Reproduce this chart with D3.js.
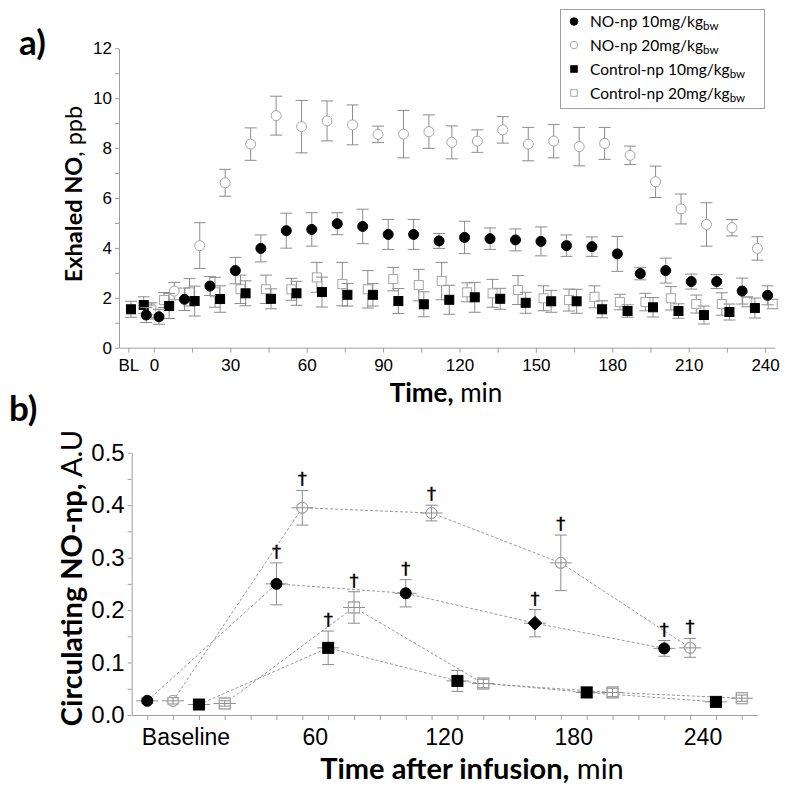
<!DOCTYPE html>
<html>
<head>
<meta charset="utf-8">
<script src="https://cdn.jsdelivr.net/npm/d3@7"></script>
<style>
  html, body { margin: 0; padding: 0; background: #fff; }
  svg { display: block; font-family: Lato, "Open Sans", sans-serif; }
</style>
</head>
<body>
<svg id="chart" width="794" height="788"></svg>
<script>
// ---------------- Panel a) data : Exhaled NO (ppb) ----------------
const topXTicks = [-10, 0, 15, 30, 45, 60, 75, 90, 105, 120, 135, 150, 165, 180, 195, 210, 225, 240];
const topXLabels = {"-10": "BL", "0": "0", "30": "30", "60": "60", "90": "90", "120": "120", "150": "150", "180": "180", "210": "210", "240": "240"};
const topYTicks = [0,1,2,3,4,5,6,7,8,9,10,11,12];

const legendNames = ["NO-np 10mg/kg", "NO-np 20mg/kg", "Control-np 10mg/kg", "Control-np 20mg/kg"];

const tNO10 = [-3,2,12,22,32,42,52,62,72,82,92,102,112,122,132,142,152,162,172,182,191,201,211,221,231,241];
const vNO10 = [1.31,1.24,1.94,2.47,3.09,3.98,4.69,4.74,4.97,4.86,4.54,4.54,4.28,4.42,4.37,4.32,4.26,4.09,4.05,3.76,2.97,3.09,2.65,2.65,2.27,2.10];
const eNO10 = [0.3,0.3,0.45,0.38,0.53,0.54,0.7,0.67,0.44,0.69,0.6,0.6,0.3,0.65,0.43,0.44,0.58,0.43,0.39,0.7,0.25,0.5,0.3,0.28,0.52,0.38];

const tNO20 = [-2,8,18,28,38,48,58,68,78,88,98,108,117,127,137,147,157,167,177,187,197,207,217,227,237];
const vNO20 = [1.45,2.27,4.09,6.61,8.16,9.30,8.86,9.09,8.93,8.55,8.56,8.66,8.23,8.28,8.73,8.16,8.28,8.06,8.19,7.71,6.65,5.56,4.94,4.81,3.98];
const eNO20 = [0.3,0.35,0.92,0.54,0.65,0.78,1.05,0.8,0.8,0.33,0.95,0.67,0.66,0.45,0.53,0.67,0.67,0.77,0.64,0.37,0.63,0.6,0.87,0.33,0.47];

const tCT10 = [-9,-4,6,16,26,36,46,56,66,76,86,96,106,116,126,136,146,156,166,176,186,196,206,216,226,236];
const vCT10 = [1.54,1.71,1.67,1.87,1.95,2.18,1.96,2.18,2.23,2.12,2.12,1.87,1.74,1.92,2.02,1.96,1.80,1.86,1.86,1.54,1.47,1.62,1.47,1.31,1.43,1.59];
const eCT10 = [0.32,0.33,0.5,0.6,0.53,0.5,0.4,0.48,0.6,0.45,0.45,0.5,0.5,0.58,0.6,0.42,0.42,0.44,0.48,0.34,0.25,0.39,0.29,0.36,0.32,0.4];

const tCT20 = [-1,4,14,24,34,44,54,64,74,84,94,104,113,123,133,143,153,163,173,183,193,203,213,223,233,243];
const vCT20 = [1.5,1.91,2.22,2.22,2.34,2.34,2.34,2.82,2.55,2.34,2.75,2.51,2.67,2.22,2.18,2.31,1.98,1.91,2.04,1.83,1.83,1.98,1.75,1.75,1.84,1.75];
const eCT20 = [0.3,0.3,0.55,0.6,0.57,0.57,0.44,0.6,0.87,0.75,0.47,0.63,0.75,0.38,0.56,0.58,0.5,0.44,0.44,0.31,0.35,0.47,0.36,0.45,0.2,0.19];

// ---------------- Panel b) data : Circulating NO-np (A.U) ----------------
const groupLabels = ["Baseline", "60", "120", "180", "240"];
const groupTimes = [0, 60, 120, 180, 240];
const bottomXTicks = d3.range(-18, 259, 12);
const bottomYTicks = [0,0.05,0.1,0.15,0.2,0.25,0.3,0.35,0.4,0.45,0.5];
const bottomYLabels = [0,0.1,0.2,0.3,0.4,0.5];

const bNO10 = [0.027,0.25,0.232,0.175,0.127];
const bNO10e = [0.005,0.04,0.026,0.026,0.015];
const bNO10shape = ["circle","circle","circle","diamond","circle"];
const bNO10dag = [0,1,1,1,1];

const bNO20 = [0.027,0.395,0.385,0.29,0.128];
const bNO20e = [0.006,0.033,0.015,0.053,0.018];
const bNO20dag = [0,1,1,1,1];

const bCT10 = [0.02,0.128,0.065,0.043,0.025];
const bCT10e = [0.004,0.032,0.02,0.01,0.005];
const bCT10dag = [0,1,0,0,0];

const bCT20 = [0.022,0.205,0.06,0.043,0.032];
const bCT20e = [0.005,0.03,0.008,0.008,0.006];
const bCT20dag = [0,1,0,0,0];

const seriesOffsets = [-18, -6, 6, 18];

// ---------------- drawing ----------------
const svg = d3.select("#chart");
const AXC = "#a0a0a0";
const ERRC = "#8c8c8c";
const OPENC = "#a6a6a6";

function styleAxis(g) {
  g.select(".domain").attr("stroke", AXC).attr("stroke-width", 1);
  g.selectAll(".tick line").attr("stroke", AXC).attr("stroke-width", 1);
  g.selectAll(".tick text").attr("fill", "#000");
}

function drawMarker(g, shape, filled, cx, cy, size, openColor, openFill) {
  const fill = filled ? "#000" : (openFill || "#fff");
  const stroke = filled ? "#000" : openColor;
  if (shape === "circle") {
    g.append("circle").attr("cx", cx).attr("cy", cy).attr("r", size / 2)
      .attr("fill", fill).attr("stroke", stroke).attr("stroke-width", 1);
  } else if (shape === "square") {
    g.append("rect").attr("x", cx - size / 2).attr("y", cy - size / 2)
      .attr("width", size).attr("height", size)
      .attr("fill", fill).attr("stroke", stroke).attr("stroke-width", 1);
  } else if (shape === "diamond") {
    const s = size * 0.62;
    g.append("path").attr("d", `M${cx},${cy - s}L${cx + s},${cy}L${cx},${cy + s}L${cx - s},${cy}Z`)
      .attr("fill", fill).attr("stroke", stroke).attr("stroke-width", 1);
  }
}

// ===== Panel a =====
const xA = d3.scaleLinear().domain([-13.7, 243.9]).range([119, 775]);
const yA = d3.scaleLinear().domain([0, 12]).range([347.7, 48.3]);

const gxA = svg.append("g").attr("transform", `translate(0,${yA(0)})`)
  .call(d3.axisBottom(xA).tickValues(topXTicks).tickSize(5).tickPadding(6)
    .tickFormat(d => topXLabels[String(d)] || "").tickSizeOuter(0));
gxA.selectAll(".tick text").attr("font-size", 17);
styleAxis(gxA);

const gyA = svg.append("g").attr("transform", `translate(${xA.range()[0]},0)`)
  .call(d3.axisLeft(yA).tickValues(topYTicks).tickSize(4).tickPadding(3)
    .tickFormat(d => d % 2 === 0 ? String(d) : "").tickSizeOuter(0));
gyA.selectAll(".tick text").attr("font-size", 17);
styleAxis(gyA);

const plotA = svg.append("g");
function drawTopSeries(ts, vs, es, shape, filled, size) {
  const g = plotA.append("g");
  ts.forEach((t, i) => {
    const cx = xA(t), cy = yA(vs[i]);
    const y1 = yA(vs[i] + es[i]), y2 = yA(vs[i] - es[i]);
    g.append("line").attr("x1", cx).attr("x2", cx).attr("y1", y1).attr("y2", y2)
      .attr("stroke", ERRC).attr("stroke-width", 1);
    [y1, y2].forEach(yy => g.append("line").attr("x1", cx - 6).attr("x2", cx + 6)
      .attr("y1", yy).attr("y2", yy).attr("stroke", ERRC).attr("stroke-width", 1));
  });
  ts.forEach((t, i) => drawMarker(g, shape, filled, xA(t), yA(vs[i]), size, OPENC));
}
drawTopSeries(tNO20, vNO20, eNO20, "circle", false, 10);
drawTopSeries(tCT20, vCT20, eCT20, "square", false, 9);
drawTopSeries(tCT10, vCT10, eCT10, "square", true, 9);
drawTopSeries(tNO10, vNO10, eNO10, "circle", true, 10);

// axis titles a
svg.append("text").attr("x", 446).attr("y", 402).attr("text-anchor", "middle")
  .attr("font-size", 26)
  .call(t => { t.append("tspan").attr("font-weight", "bold").text("Time,");
               t.append("tspan").text(" min"); });
svg.append("text").attr("transform", "translate(82,194) rotate(-90)").attr("text-anchor", "middle")
  .attr("font-size", 23.5)
  .call(t => { t.append("tspan").attr("font-weight", "bold").text("Exhaled NO");
               t.append("tspan").text(", ppb"); });
svg.append("text").attr("x", 19).attr("y", 55).attr("font-size", 35).attr("font-weight", "bold").text("a)");

// legend
const leg = svg.append("g");
leg.append("rect").attr("x", 560.5).attr("y", 9.5).attr("width", 204).attr("height", 99)
  .attr("fill", "#fff").attr("stroke", AXC).attr("stroke-width", 1);
const legShapes = [["circle", true], ["circle", false], ["square", true], ["square", false]];
const legY = [21.5, 45, 69, 93];
legendNames.forEach((name, i) => {
  drawMarker(leg, legShapes[i][0], legShapes[i][1], 574, legY[i], legShapes[i][0] === "circle" ? 7.5 : 6.5, OPENC);
  const t = leg.append("text").attr("x", 590).attr("y", legY[i] + 5.5).attr("font-size", 15.5);
  t.append("tspan").text(name);
  t.append("tspan").attr("font-size", 11.5).attr("dy", 3).text("bw");
});

// ===== Panel b =====
const xB = d3.scaleLinear().domain([-25.2, 265.2]).range([131.7, 757.3]);
const yB = d3.scaleLinear().domain([0, 0.5]).range([715, 452.7]);

const gxB = svg.append("g").attr("transform", `translate(0,${yB(0)})`)
  .call(d3.axisBottom(xB).tickValues(bottomXTicks).tickSize(5).tickFormat("").tickSizeOuter(0));
styleAxis(gxB);
gxB.selectAll(".lbl").data(groupTimes).enter().append("text")
  .attr("x", d => xB(d)).attr("y", 30).attr("text-anchor", "middle")
  .attr("font-size", 23).attr("fill", "#000")
  .text((d, i) => groupLabels[i]);

const gyB = svg.append("g").attr("transform", `translate(${xB.range()[0]},0)`)
  .call(d3.axisLeft(yB).tickValues(bottomYTicks).tickSize(4).tickPadding(3)
    .tickFormat(d => bottomYLabels.some(v => Math.abs(v - d) < 1e-9) ? d3.format(".1f")(d) : "").tickSizeOuter(0));
gyB.selectAll(".tick text").attr("font-size", 24);
styleAxis(gyB);

const plotB = svg.append("g");
const bSeries = [
  {v: bNO10, e: bNO10e, dag: bNO10dag, shapes: bNO10shape, filled: true},
  {v: bNO20, e: bNO20e, dag: bNO20dag, shapes: ["circle","circle","circle","circle","circle"], filled: false},
  {v: bCT10, e: bCT10e, dag: bCT10dag, shapes: ["square","square","square","square","square"], filled: true},
  {v: bCT20, e: bCT20e, dag: bCT20dag, shapes: ["square","square","square","square","square"], filled: false}
];
// dashed connecting lines
bSeries.forEach((s, si) => {
  const line = d3.line().x((d, i) => xB(groupTimes[i] + seriesOffsets[si])).y(d => yB(d));
  plotB.append("path").attr("d", line(s.v)).attr("fill", "none")
    .attr("stroke", "#9a9a9a").attr("stroke-width", 1).attr("stroke-dasharray", "3,2");
});
bSeries.forEach((s, si) => {
  const g = plotB.append("g");
  s.v.forEach((v, i) => {
    const cx = xB(groupTimes[i] + seriesOffsets[si]), cy = yB(v);
    const y1 = yB(v + s.e[i]), y2 = yB(v - s.e[i]);
    if (!s.filled) drawMarker(g, s.shapes[i], false, cx, cy, 11, OPENC, "#fff");
    g.append("line").attr("x1", cx).attr("x2", cx).attr("y1", y1).attr("y2", y2)
      .attr("stroke", ERRC).attr("stroke-width", 1);
    [y1, y2].forEach(yy => g.append("line").attr("x1", cx - 6).attr("x2", cx + 6)
      .attr("y1", yy).attr("y2", yy).attr("stroke", ERRC).attr("stroke-width", 1));
    g.append("line").attr("x1", cx - 11).attr("x2", cx + 11).attr("y1", cy).attr("y2", cy)
      .attr("stroke", ERRC).attr("stroke-width", 1);
    drawMarker(g, s.shapes[i], s.filled, cx, cy, 11, OPENC, "none");
    if (s.dag[i]) {
      g.append("text").attr("x", cx).attr("y", y1 - 5).attr("text-anchor", "middle")
        .attr("font-family", "'DejaVu Sans', sans-serif")
        .attr("font-size", 18).attr("fill", "#000").attr("stroke", "#000").attr("stroke-width", 0.4)
        .text("†");
    }
  });
});

// axis titles b
svg.append("text").attr("x", 472).attr("y", 778.5).attr("text-anchor", "middle")
  .attr("font-size", 29)
  .call(t => { t.append("tspan").attr("font-weight", "bold").text("Time after infusion,");
               t.append("tspan").text(" min"); });
svg.append("text").attr("transform", "translate(82,578) rotate(-90)").attr("text-anchor", "middle")
  .attr("font-size", 29)
  .call(t => { t.append("tspan").attr("font-weight", "bold").text("Circulating NO-np,");
               t.append("tspan").text(" A.U"); });
svg.append("text").attr("x", 9).attr("y", 421).attr("font-size", 35).attr("font-weight", "bold").text("b)");
</script>
</body>
</html>
